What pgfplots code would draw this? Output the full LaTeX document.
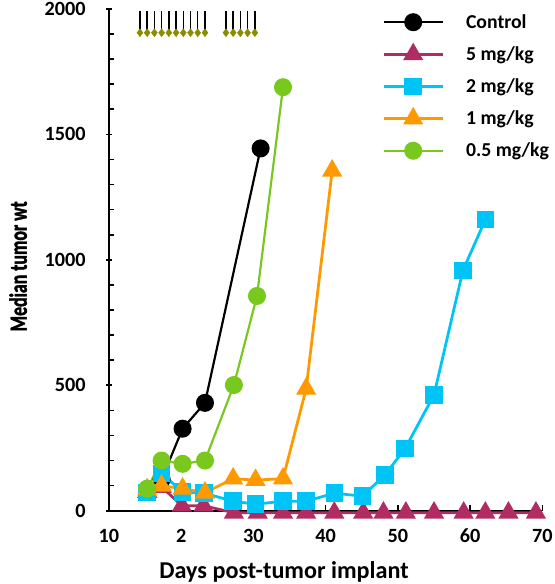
\documentclass[border=0pt]{standalone}
\usepackage{pgfplots}
\pgfplotsset{compat=1.18}
\usepackage{fontspec}
\setmainfont{Carlito}
\newfontfamily\ylabfont{Carlito}[UprightFont=*-Bold, FakeBold=2]
\definecolor{cmag}{RGB}{176,44,98}
\definecolor{ccyan}{RGB}{0,196,245}
\definecolor{corange}{RGB}{255,153,0}
\definecolor{cgreen}{RGB}{120,200,30}
\definecolor{colive}{RGB}{140,140,0}
\begin{document}
\begin{tikzpicture}
\begin{axis}[
  scale only axis,
  width=438bp, height=507bp,
  xmin=10, xmax=70, ymin=0, ymax=2000,
  clip=false,
  axis lines=left,
  axis line style={-, line width=2bp},
  xtick={10,20,30,40,50,60,70},
  xticklabels={\textbf{10},\textbf{2},\textbf{30},\textbf{40},\textbf{50},\textbf{60},\textbf{70}},
  ytick={0,500,1000,1500,2000},
  yticklabel={\textbf{\pgfmathprintnumber{\tick}}},
  minor y tick num=4,
  tick align=inside,
  major tick length=6bp,
  minor tick length=5bp,
  every major y tick/.append style={xshift=-3bp},
  tick style={line width=1.6bp, black},
  /pgf/number format/assume math mode=true,
  /pgf/number format/set thousands separator={},
  tick label style={font=\bfseries\fontsize{20.5}{24}\selectfont},
  yticklabel style={xshift=-20bp},
  xticklabel style={yshift=-15bp},
  xlabel={Days post-tumor implant},
  ylabel={\scalebox{0.72}[1]{\ylabfont\fontsize{25}{30}\selectfont Median tumor wt}},
  x label style={font=\bfseries\fontsize{24.5}{28}\selectfont, at={(axis description cs:0.404,0)}, anchor=north, yshift=-48bp},
  y label style={at={(axis description cs:-0.181,0.487)}, anchor=south},
  legend style={at={(rel axis cs:0.623,0.997)}, anchor=north west, draw=none, fill=none,
    font=\bfseries\fontsize{20}{24}\selectfont, row sep=13bp,
    /tikz/every odd column/.append style={column sep=20bp}},
  legend cell align=left,
  legend image code/.code={\draw[#1, mark repeat=2, mark phase=2] plot coordinates {(0bp,0bp) (30bp,0bp) (60bp,0bp)};},
]
% dosing arrows
\addplot[forget plot, only marks, mark=diamond*, mark size=4bp, colive,
  error bars/.cd, y dir=plus, y explicit, error mark=none,
  error bar style={black, line width=1.5bp}]
  coordinates {
  (14.3,1905) +- (0,88) (15.3,1905) +- (0,88) (16.3,1905) +- (0,88)
  (17.3,1905) +- (0,88) (18.3,1905) +- (0,88) (19.3,1905) +- (0,88)
  (20.3,1905) +- (0,88) (21.3,1905) +- (0,88) (22.3,1905) +- (0,88)
  (23.3,1905) +- (0,88)
  (26.2,1905) +- (0,88) (27.2,1905) +- (0,88) (28.2,1905) +- (0,88)
  (29.2,1905) +- (0,88) (30.2,1905) +- (0,88)};
% Control
\addplot[black, line width=2.2bp, mark=*, mark size=8bp]
  coordinates {(15.3,80) (17.3,125) (20.2,327) (23.3,430) (31.0,1444)};
\addlegendentry{Control}
% 5 mg/kg
\addplot[cmag, line width=2.8bp, mark=triangle*, mark size=9bp, mark options={solid}]
  coordinates {(15.3,75) (17.3,95) (20.1,20) (23.1,20) (27.3,-8) (30.6,-8) (34.1,-8)
  (37.3,-8) (41.2,-8) (45.2,-8) (48.0,-8) (51.1,-8) (55.0,-8) (59.1,-8) (62.1,-8)
  (65.3,-8) (69.1,-8)};
\addlegendentry{5 mg/kg}
% 2 mg/kg
\addplot[ccyan, line width=2.8bp, mark=square*, mark size=7.5bp]
  coordinates {(15.3,72) (17.3,148) (20.2,75) (23.2,70) (27.2,38) (30.3,26) (34.1,38)
  (37.3,38) (41.2,70) (45.1,58) (48.2,143) (51.0,248) (55.0,462) (59.0,958) (62.1,1160)};
\addlegendentry{2 mg/kg}
% 1 mg/kg
\addplot[corange, line width=2.8bp, mark=triangle*, mark size=9bp]
  coordinates {(15.3,85) (17.3,100) (20.2,88) (23.3,72) (27.2,128) (30.3,122) (34.1,128)
  (37.3,486) (40.9,1355)};
\addlegendentry{1 mg/kg}
% 0.5 mg/kg
\addplot[cgreen, line width=2.2bp, mark=*, mark size=8bp]
  coordinates {(15.3,88) (17.3,200) (20.2,187) (23.3,200) (27.3,501) (30.5,856) (34.1,1688)};
\addlegendentry{0.5 mg/kg}
\end{axis}
\pgfresetboundingbox
\path[use as bounding box] ([xshift=-110bp, yshift=-74bp]current axis.south west) rectangle ([xshift=12bp, yshift=9bp]current axis.north east);
\end{tikzpicture}
\end{document}
